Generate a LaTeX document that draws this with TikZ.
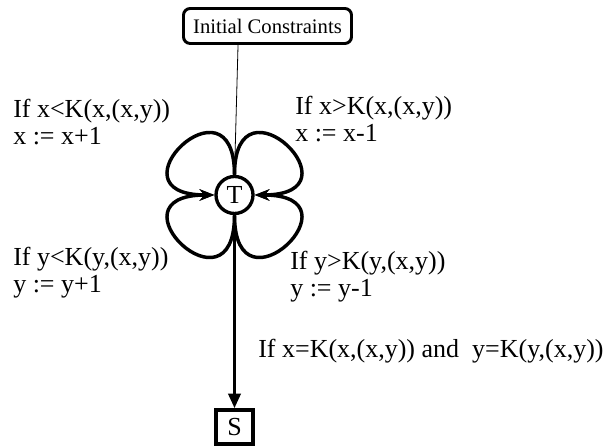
\documentclass[tikz,border=0pt]{standalone}
\usepackage{fontspec}
\setmainfont{Liberation Serif}
\usetikzlibrary{arrows.meta, positioning, calc}

\begin{document}
\begin{tikzpicture}[x=0.75pt, y=0.75pt,
  initbox/.style={draw, rounded corners=5pt, line width=2.2pt, minimum width=126pt, minimum height=26.25pt, inner sep=0pt, font=\fontsize{15.5}{17}\selectfont},
  statenode/.style={draw, circle, line width=2.5pt, minimum size=27.75pt, inner sep=0pt, font=\fontsize{19.5}{20}\selectfont},
  endbox/.style={draw, rectangle, line width=2.5pt, minimum width=27.75pt, minimum height=25.5pt, inner sep=0pt, font=\fontsize{19.5}{20}\selectfont},
  rule/.style={anchor=base west, inner sep=0pt, align=left, font=\fontsize{19.5}{20.5}\selectfont},
  petal/.style={line width=2.6pt, -{Stealth[length=11pt, width=8.5pt]}}]
  \useasboundingbox (0,0) rectangle (610,448);

  \node[initbox] (init) at (267.5,422) {Initial Constraints};
  \node[statenode] (T) at (234.5,253) {T};
  \node[endbox] (S) at (234.5,21) {S};

  % entry from the initial constraints
  \coordinate (tin) at ($(init.south west)+(56,0)$);
  \draw[line width=0.6pt] (tin) -- (T.north);

  % the four update loops
  \draw[petal] (T.north) .. controls +(90:106) and +(180:110) .. (T.west);
  \draw[petal] (T.north) .. controls +(90:106) and +(0:110) .. (T.east);
  \draw[petal] (T.south) .. controls +(-90:106) and +(180:110) .. (T.west);
  \draw[petal] (T.south) .. controls +(-90:106) and +(0:110) .. (T.east);

  % exit
  \draw[line width=2.6pt, -{Triangle[length=11pt, width=9pt]}] (T.south) -- (S.north);

  \node[rule] (xinc) at (13,303) {If x<K(x,(x,y))\\x := x+1};
  \node[rule] (xdec) at (295,306) {If x>K(x,(x,y))\\x := x-1};
  \node[rule] (yinc) at (13,155) {If y<K(y,(x,y))\\y := y+1};
  \node[rule] (ydec) at (290,151) {If y>K(y,(x,y))\\y := y-1};
  \node[rule] (stop) at (258,90) {If x=K(x,(x,y)) and\ \ y=K(y,(x,y))};
\end{tikzpicture}
\end{document}
